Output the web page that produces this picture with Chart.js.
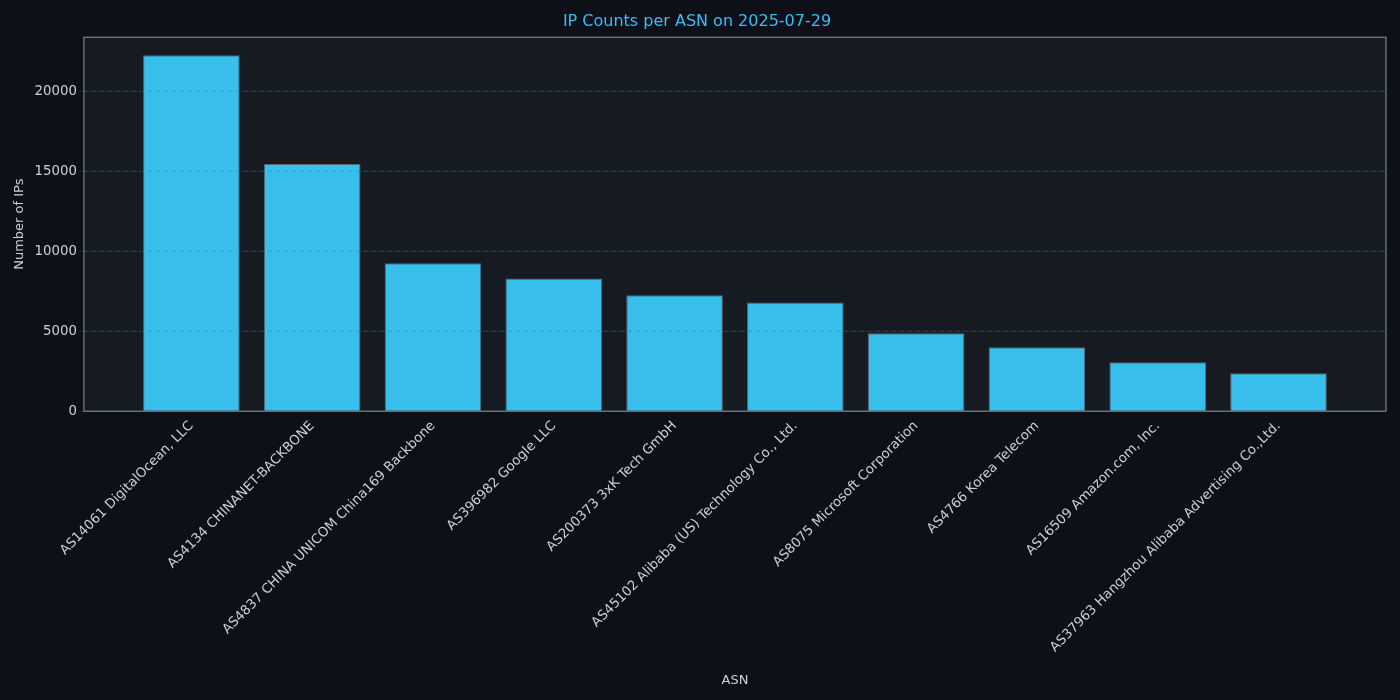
<!DOCTYPE html>
<html><head><meta charset="utf-8">
<script src="https://cdn.jsdelivr.net/npm/chart.js@4"></script>
<style>html,body{margin:0;background:#0d1117;}#w{width:1400px;height:700px;}</style>
</head><body><div id="w"><canvas id="c"></canvas></div>
<script>
const categories = ["AS14061 DigitalOcean, LLC","AS4134 CHINANET-BACKBONE","AS4837 CHINA UNICOM China169 Backbone","AS396982 Google LLC","AS200373 3xK Tech GmbH","AS45102 Alibaba (US) Technology Co., Ltd.","AS8075 Microsoft Corporation","AS4766 Korea Telecom","AS16509 Amazon.com, Inc.","AS37963 Hangzhou Alibaba Advertising Co.,Ltd."];
const counts = [22250,15450,9250,8300,7250,6800,4870,4000,3050,2370];
const yTicks = [0,5000,10000,15000,20000];
const txt = '#c9d1d9';
const plugins = [{
  id:'bg',
  beforeDraw(ch){const {ctx,chartArea:a}=ch;ctx.save();ctx.fillStyle='#161b22';ctx.fillRect(a.left,a.top,a.right-a.left,a.bottom-a.top);ctx.restore();},
  afterDatasetsDraw(ch){const {ctx,chartArea:a,scales:{y}}=ch;ctx.save();ctx.setLineDash([4,4]);ctx.lineWidth=0.8;
    yTicks.forEach(v=>{if(v===0)return;const p=y.getPixelForValue(v);ctx.strokeStyle='rgba(30,110,150,0.6)';ctx.beginPath();ctx.moveTo(a.left,p);ctx.lineTo(a.right,p);ctx.stroke();});
    ctx.setLineDash([]);ctx.strokeStyle='#8b98a5';ctx.lineWidth=1;ctx.strokeRect(a.left,a.top,a.right-a.left,a.bottom-a.top);ctx.restore();}
}];
new Chart(document.getElementById('c'),{
  type:'bar',
  data:{datasets:[{data:counts.map((v,i)=>({x:i,y:v})),backgroundColor:'#38bfec',borderColor:'#5a6570',borderWidth:1,barPercentage:0.8,categoryPercentage:1}]},
  options:{responsive:true,maintainAspectRatio:false,animation:false,
    layout:{padding:{left:8,right:14,top:4,bottom:8}},
    plugins:{legend:{display:false},tooltip:{enabled:false},
      title:{display:true,text:'IP Counts per ASN on 2025-07-29',color:'#38bdf8',font:{family:'DejaVu Sans',size:16,weight:'normal'},padding:{top:8,bottom:6}}},
    scales:{
      x:{type:'linear',offset:false,min:-0.89,max:9.89,afterBuildTicks(s){s.ticks=categories.map((_,i)=>({value:i}));},
        ticks:{autoSkip:false,minRotation:45,maxRotation:45,color:txt,font:{family:'DejaVu Sans',size:13.3},callback:v=>categories[v]},
        grid:{display:false,drawTicks:true,tickLength:4,color:'#8b98a5'},border:{display:false},
        title:{display:true,text:'ASN',color:txt,font:{family:'DejaVu Sans',size:13},padding:{top:14}}},
      y:{min:0,max:23375,afterBuildTicks(s){s.ticks=yTicks.map(v=>({value:v}));},
        ticks:{color:txt,font:{family:'DejaVu Sans',size:13.3},callback:v=>String(v)},
        grid:{color:'rgba(60,70,80,0.35)',drawTicks:true,tickLength:4},border:{display:false},
        title:{display:true,text:'Number of IPs',color:txt,font:{family:'DejaVu Sans',size:13}}}
    }},
  plugins
});
</script></body></html>
